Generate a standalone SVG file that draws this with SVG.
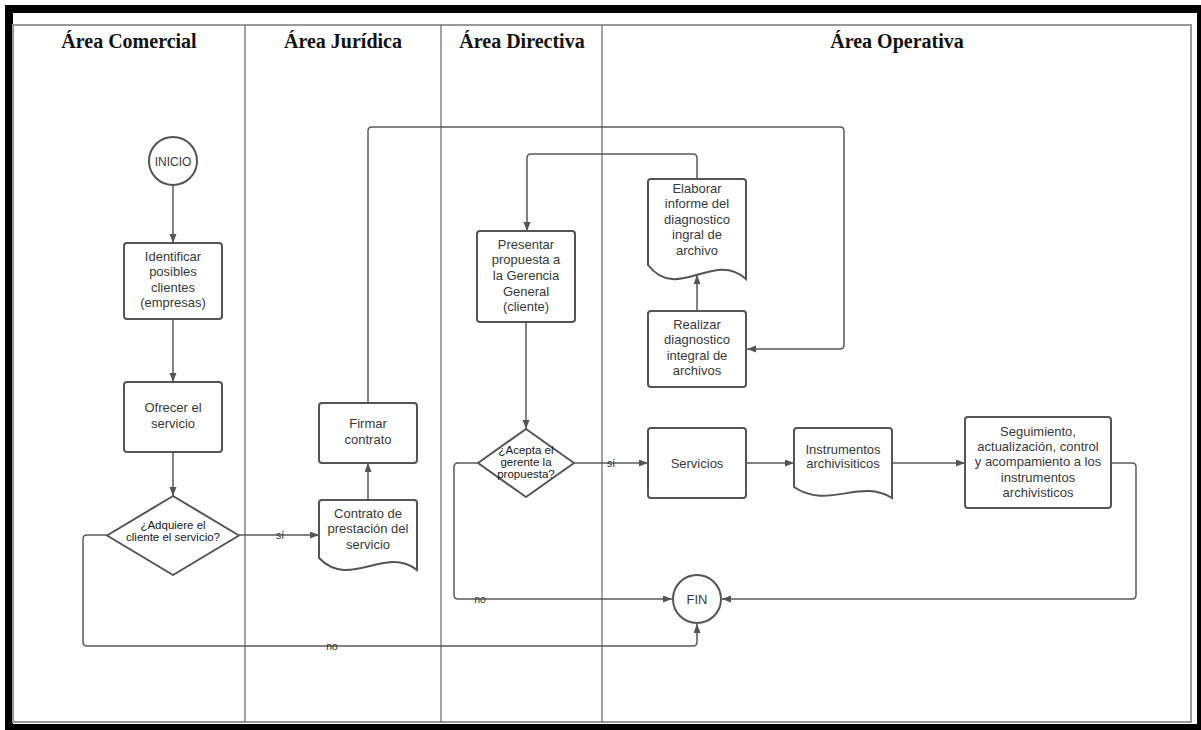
<svg xmlns="http://www.w3.org/2000/svg" width="1201" height="730" viewBox="0 0 1201 730">
<style>
.hdr{font-family:"Liberation Serif",serif;font-weight:bold;font-size:20px;fill:#111;text-anchor:middle}
.shape{fill:#fff;stroke:#555;stroke-width:2}
.t{font-family:"Liberation Sans",Arial,sans-serif;font-size:13px;fill:#3a3a3a;text-anchor:middle}
.dt{font-family:"Liberation Sans",Arial,sans-serif;font-size:11.5px;fill:#1a1a1a;text-anchor:middle}
.lbl{font-family:"Liberation Sans",Arial,sans-serif;font-size:10.5px;fill:#333;text-anchor:middle}
.conn{fill:none;stroke:#5a5a5a;stroke-width:1.5}
.lane{stroke:#666;stroke-width:1.2}
</style>
<defs>
<marker id="arr" markerUnits="userSpaceOnUse" markerWidth="10" markerHeight="8" refX="9" refY="3.5" orient="auto">
<path d="M0,0 L9,3.5 L0,7 z" fill="#555"/>
</marker>
</defs>
<rect x="0" y="0" width="1201" height="730" fill="#fff"/>
<rect x="5" y="5" width="1196" height="725" fill="#000"/>
<rect x="13" y="13" width="1184" height="711" fill="#fff"/>
<g id="lanes">
<rect x="13" y="25" width="1178" height="697" fill="none" stroke="#999" stroke-width="2"/>
<line class="lane" x1="245" y1="25" x2="245" y2="722"/>
<line class="lane" x1="441" y1="25" x2="441" y2="722"/>
<line class="lane" x1="602" y1="25" x2="602" y2="722"/>
<text class="hdr" x="129" y="48">Área Comercial</text>
<text class="hdr" x="343" y="48">Área Jurídica</text>
<text class="hdr" x="522" y="48">Área Directiva</text>
<text class="hdr" x="897" y="48">Área Operativa</text>
</g>
<g id="connectors">
<path class="conn" d="M173,185 V243" marker-end="url(#arr)"/>
<path class="conn" d="M173,319 V382" marker-end="url(#arr)"/>
<path class="conn" d="M173,452 V496" marker-end="url(#arr)"/>
<path class="conn" d="M239,535 H319" marker-end="url(#arr)"/>
<path class="conn" d="M368,500 V463" marker-end="url(#arr)"/>
<path class="conn" d="M368,403 V131 Q368,127 372,127 H840 Q844,127 844,131 V345 Q844,349 840,349 H747" marker-end="url(#arr)"/>
<path class="conn" d="M697,311 V275" marker-end="url(#arr)"/>
<path class="conn" d="M697,179 V158 Q697,154 693,154 H531 Q527,154 527,158 V231" marker-end="url(#arr)"/>
<path class="conn" d="M526,322 V429" marker-end="url(#arr)"/>
<path class="conn" d="M574,463 H648" marker-end="url(#arr)"/>
<path class="conn" d="M746,463 H794" marker-end="url(#arr)"/>
<path class="conn" d="M892,463 H965" marker-end="url(#arr)"/>
<path class="conn" d="M1111,463 H1132 Q1136,463 1136,467 V595 Q1136,599 1132,599 H722" marker-end="url(#arr)"/>
<path class="conn" d="M479,463 H458 Q454,463 454,467 V595 Q454,599 458,599 H672" marker-end="url(#arr)"/>
<path class="conn" d="M107,535 H87 Q83,535 83,539 V642 Q83,646 87,646 H693 Q697,646 697,642 V624" marker-end="url(#arr)"/>
<text class="lbl" x="280" y="539">sí</text>
<text class="lbl" x="611" y="467">sí</text>
<text class="lbl" x="480" y="603">no</text>
<text class="lbl" x="332" y="650">no</text>
</g>
<g id="inicio">
<circle class="shape" cx="173" cy="161" r="24"/>
<text class="t" x="173" y="165.5" style="font-size:12px">INICIO</text>
</g>
<g id="identificar">
<rect class="shape" x="124" y="243" width="98" height="76" rx="3"/>
<text class="t" x="173" y="260.5">Identificar</text>
<text class="t" x="173" y="276">posibles</text>
<text class="t" x="173" y="291.5">clientes</text>
<text class="t" x="173" y="307">(empresas)</text>
</g>
<g id="ofrecer">
<rect class="shape" x="124" y="382" width="98" height="70" rx="3"/>
<text class="t" x="173" y="411.5">Ofrecer el</text>
<text class="t" x="173" y="427.5">servicio</text>
</g>
<g id="adquiere">
<path class="shape" d="M173,496 L239,535.5 L173,575 L107,535.5 Z" stroke-linejoin="round"/>
<text class="dt" x="173" y="529">¿Adquiere el</text>
<text class="dt" x="173" y="541">cliente el servicio?</text>
</g>
<g id="contrato">
<path class="shape" d="M319,503 Q319,500 322,500 H414 Q417,500 417,503 V570 C385,545 350,590 319,558 Z"/>
<text class="t" x="368" y="517.5">Contrato de</text>
<text class="t" x="368" y="533">prestación del</text>
<text class="t" x="368" y="548.5">servicio</text>
</g>
<g id="firmar">
<rect class="shape" x="319" y="403" width="98" height="60" rx="3"/>
<text class="t" x="368" y="427.5">Firmar</text>
<text class="t" x="368" y="443.5">contrato</text>
</g>
<g id="presentar">
<rect class="shape" x="477" y="231" width="98" height="91" rx="3"/>
<text class="t" x="526" y="248.5">Presentar</text>
<text class="t" x="526" y="264.3">propuesta a</text>
<text class="t" x="526" y="280">la Gerencia</text>
<text class="t" x="526" y="295.5">General</text>
<text class="t" x="526" y="311">(cliente)</text>
</g>
<g id="acepta">
<path class="shape" d="M526,429 L574,463 L526,497 L478,463 Z" stroke-linejoin="round"/>
<text class="dt" x="526" y="454">¿Acepta el</text>
<text class="dt" x="526" y="466">gerente la</text>
<text class="dt" x="526" y="477.5">propuesta?</text>
</g>
<g id="elaborar">
<path class="shape" d="M648,182 Q648,179 651,179 H743 Q746,179 746,182 V279 C713.7,249.6 677.4,302.8 648,265 Z"/>
<text class="t" x="697" y="192.8">Elaborar</text>
<text class="t" x="697" y="208">informe del</text>
<text class="t" x="697" y="223.5">diagnostico</text>
<text class="t" x="697" y="239">ingral de</text>
<text class="t" x="697" y="254.5">archivo</text>
</g>
<g id="realizar">
<rect class="shape" x="648" y="311" width="98" height="76" rx="3"/>
<text class="t" x="697" y="328.5">Realizar</text>
<text class="t" x="697" y="344.3">diagnostico</text>
<text class="t" x="697" y="360">integral de</text>
<text class="t" x="697" y="375.3">archivos</text>
</g>
<g id="servicios">
<rect class="shape" x="648" y="428" width="98" height="70" rx="3"/>
<text class="t" x="697" y="467.5">Servicios</text>
</g>
<g id="instrumentos">
<path class="shape" d="M794,431 Q794,428 797,428 H889 Q892,428 892,431 V498 C860,478 828,510 794,487 Z"/>
<text class="t" x="843" y="454">Instrumentos</text>
<text class="t" x="843" y="468">archivisiticos</text>
</g>
<g id="seguimiento">
<rect class="shape" x="965" y="417" width="146" height="91" rx="3"/>
<text class="t" x="1038" y="436">Seguimiento,</text>
<text class="t" x="1038" y="451">actualización, control</text>
<text class="t" x="1038" y="466">y acompamiento a los</text>
<text class="t" x="1038" y="481.5">instrumentos</text>
<text class="t" x="1038" y="496.5">archivisticos</text>
</g>
<g id="fin">
<circle class="shape" cx="697" cy="599" r="24"/>
<text class="t" x="697" y="603.5">FIN</text>
</g>
</svg>
